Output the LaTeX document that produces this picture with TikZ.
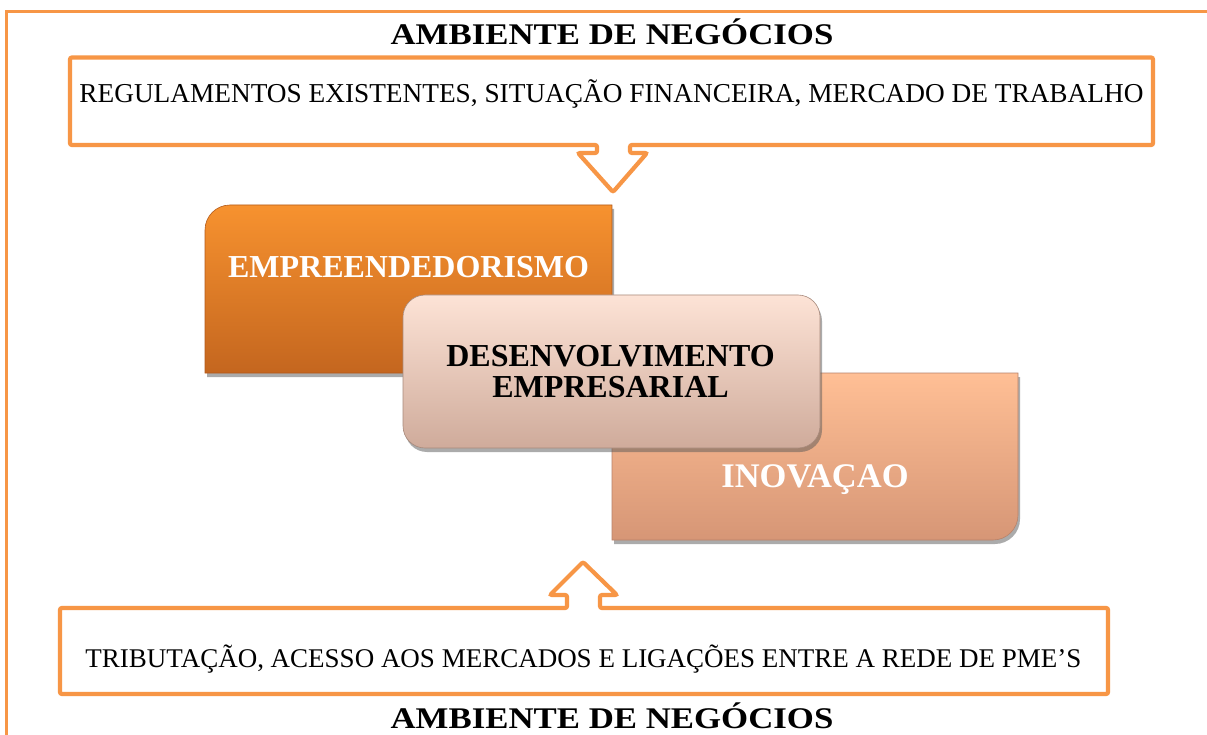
\documentclass[tikz,border=0pt]{standalone}
\usepackage{fontspec}
\setmainfont{Liberation Serif}
\usetikzlibrary{shadows}
\definecolor{frameor}{HTML}{F79646}
\definecolor{empTop}{HTML}{F7922F}
\definecolor{empBot}{HTML}{C4661F}
\definecolor{empEdge}{HTML}{B35A1A}
\definecolor{desTop}{HTML}{FDE3D6}
\definecolor{desBot}{HTML}{CFAB9B}
\definecolor{desEdge}{HTML}{A88A7C}
\definecolor{inoTop}{HTML}{FFBF95}
\definecolor{inoBot}{HTML}{D69676}
\definecolor{inoEdge}{HTML}{B8826A}
\tikzset{
  outline/.style={draw=frameor, line width=4.2pt, rounded corners=2pt},
  frameline/.style={draw=frameor, line width=3.8pt},
  titletext/.style={font=\fontsize{30}{34}\selectfont\bfseries, anchor=base, inner sep=0pt},
  bodytext/.style={font=\fontsize{27.3}{32}\selectfont, anchor=base, inner sep=0pt},
  boxtext/.style={font=\fontsize{32}{31}\selectfont\bfseries, anchor=base, inner sep=0pt},
  boxshadow/.style={drop shadow={shadow xshift=2pt, shadow yshift=-4pt, opacity=0.5, fill=black!65}},
}
\begin{document}
\begin{tikzpicture}[x=1pt,y=-1pt]
\useasboundingbox (0,0) rectangle (1207,735);
\clip (0,0) rectangle (1207,735);
\fill[white] (0,0) rectangle (1207,735);
% outer frame (extends beyond the right and bottom edges)
\draw[frameline] (6.5,11.5) rectangle (1240,770);
% titles
\node[titletext] (titletop) at (612,45) {\scalebox{1.16}[1]{AMBIENTE DE NEGÓCIOS}};
\node[titletext] (titlebot) at (612,728) {\scalebox{1.16}[1]{AMBIENTE DE NEGÓCIOS}};
% top callout box with down arrow
\draw[outline] (70,57.5) -- (1153,57.5) -- (1153,145) -- (630,145) -- (630,153) -- (647,153)
  -- (613,192) -- (578,153) -- (597,153) -- (597,145) -- (70,145) -- cycle;
\node[bodytext] (regs) at (611.5,103) {REGULAMENTOS EXISTENTES, SITUAÇÃO FINANCEIRA, MERCADO DE TRABALHO};
% bottom callout box with up arrow
\draw[outline] (60,608) -- (567,608) -- (567,595) -- (550,595) -- (583,562) -- (617,595)
  -- (600,595) -- (600,608) -- (1108,608) -- (1108,694) -- (60,694) -- cycle;
\node[bodytext, font=\fontsize{27}{32}\selectfont] (trib) at (583.5,667) {TRIBUTAÇÃO, ACESSO AOS MERCADOS E LIGAÇÕES ENTRE A REDE DE PME’S};
% EMPREENDEDORISMO box
\path[boxshadow, top color=empTop, bottom color=empBot, draw=empEdge, line width=0.6pt]
  (205,373) -- (205,230) .. controls (205,216.2) and (216.2,205) .. (230,205)
  -- (612,205) -- (612,373) -- cycle;
\node[boxtext, text=white] (empre) at (408.5,278) {EMPREENDEDORISMO};
% INOVACAO box
\path[boxshadow, top color=inoTop, bottom color=inoBot, draw=inoEdge, line width=0.6pt]
  (612,373) -- (1018,373) -- (1018,515) .. controls (1018,528.8) and (1006.8,540) .. (993,540)
  -- (612,540) -- cycle;
\node[boxtext, text=white, font=\fontsize{34.5}{34}\selectfont\bfseries] (inov) at (815,487) {INOVAÇAO};
% DESENVOLVIMENTO box
\node[boxshadow, rounded corners=22pt, minimum width=417pt, minimum height=153pt,
  top color=desTop, bottom color=desBot, draw=desEdge, line width=0.6pt] (desbox) at (611.5,371.5) {};
\node[boxtext, anchor=center, align=center] (desen) at (610.5,371.5) {DESENVOLVIMENTO\\EMPRESARIAL};
\end{tikzpicture}
\end{document}
